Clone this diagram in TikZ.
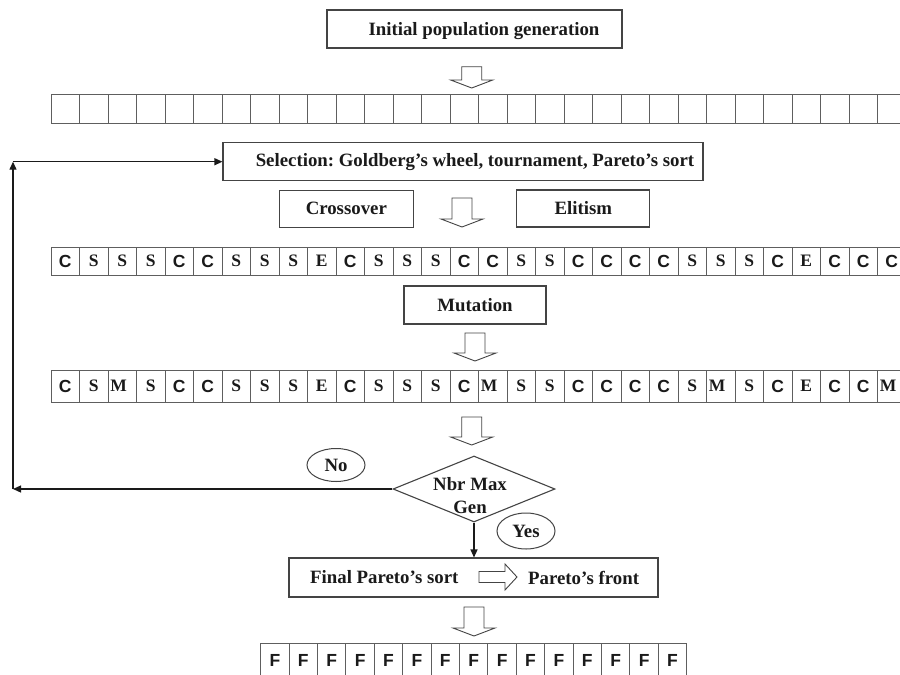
\documentclass[tikz,border=0pt]{standalone}
\usepackage{fontspec}
\setmainfont{Liberation Serif}
\newfontfamily\arialfont{Liberation Sans}
\usetikzlibrary{shapes.geometric,arrows.meta}
\definecolor{boxgray}{HTML}{444444}
\definecolor{cellgray}{HTML}{5E5E5E}
\definecolor{inkc}{HTML}{1A1A1A}
\frenchspacing
\newcommand\LC{{\arialfont C}}
\newcommand\LF{{\arialfont F}}
\newcommand\LS{S}
\newcommand\LE{E}
\newcommand\LM{\makebox[24pt][l]{M}}
% block down arrow: centre x, top y, shaft length, head length
\newcommand\dblock[4]{\draw[barrow] (#1,#2) ++(-10,0) -- ++(0,#3) -- ++(-11,0) -- ++(21,#4) -- ++(21,-#4) -- ++(-11,0) -- ++(0,-#3) -- cycle;}
\tikzset{
 lbl/.style={font=\fontsize{18.8}{23}\selectfont\bfseries, text=inkc},
 box/.style={draw=boxgray, line width=1.1pt, rectangle, inner sep=0pt, lbl},
 cell/.style={draw=cellgray, line width=0.9pt, rectangle, inner sep=0pt, outer sep=0pt,
   minimum width=28.5pt, anchor=north west, text=inkc,
   font=\bfseries\fontsize{17.5}{17.5}\selectfont},
 fb/.style={draw=inkc, line width=1.3pt, -{Triangle[length=8pt,width=7pt]}},
 barrow/.style={draw=boxgray, line width=0.9pt, fill=white, line join=miter},
}
\begin{document}
\begin{tikzpicture}[x=1pt,y=-1pt]
\useasboundingbox (0,0) rectangle (900,675);
\clip (0,0) rectangle (900,675);
\fill[white] (0,0) rectangle (900,675);

% top box
\node[box, minimum width=295pt, minimum height=38pt] (init) at (474.5,29) {};
\node[lbl, inner sep=0pt] (inittxt) at (484,31) {Initial population generation};
\dblock{471.7}{66.7}{13.3}{8}

% empty population row
\foreach \k in {0,...,29}
  \node[cell, minimum height=29pt] (p\k) at ({51+28.5*\k},94) {};

% selection
\node[box, minimum width=480pt, minimum height=38pt] (sel) at (463,161.7) {};
\node[lbl, inner sep=0pt] (seltxt) at (475,161.7) {Selection: Goldberg’s wheel, tournament, Pareto’s sort};

\node[box, minimum width=134pt, minimum height=37pt] (cross) at (346.3,208.7) {Crossover};
\node[box, minimum width=133pt, minimum height=37pt] (elit) at (583.3,208.5) {Elitism};
\dblock{462}{198}{21}{8}

% crossover / selection / elitism row
\foreach \l [count=\k from 0] in {C,S,S,S,C,C,S,S,S,E,C,S,S,S,C,C,S,S,C,C,C,C,S,S,S,C,E,C,C,C}
  \node[cell, minimum height=28pt] (c\k) at ({51+28.5*\k},247) {\csname L\l\endcsname};

% mutation
\node[box, minimum width=142pt, minimum height=38pt] (mut) at (475,305) {Mutation};
\dblock{475}{333}{20}{8}

\foreach \l [count=\k from 0] in {C,S,M,S,C,C,S,S,S,E,C,S,S,S,C,M,S,S,C,C,C,C,S,M,S,C,E,C,C,M}
  \node[cell, minimum height=32pt] (m\k) at ({51+28.5*\k},370) {\csname L\l\endcsname};

\dblock{471.7}{417}{20}{8}

% decision
\node[diamond, draw=boxgray, line width=1.1pt, minimum width=162pt, minimum height=66pt, inner sep=0pt] (dec) at (474,489) {};
\node[lbl, align=center, inner sep=0pt] (dectxt) at (470,496) {Nbr Max\\Gen};
\node[ellipse, draw=boxgray, line width=1pt, minimum width=58pt, minimum height=33pt, inner sep=0pt, lbl] (no) at (336,465) {No};
\node[ellipse, draw=boxgray, line width=1pt, minimum width=58pt, minimum height=36pt, inner sep=0pt, lbl] (yes) at (526,531) {Yes};

% feedback loop
\coordinate (fbL) at (13,489);
\coordinate (fbT) at (sel.west -| fbL);
\draw[fb] (dec.west) -- (fbL);
\draw[fb] (fbL) -- (fbT);
\draw[fb] (fbT) -- (sel.west);

% final
\node[box, minimum width=369pt, minimum height=39pt] (fin) at (473.5,577.5) {};
\draw[fb] (dec.south) -- (dec.south |- fin.north);
\node[lbl, anchor=west, inner sep=0pt] (fin1) at (310,577.5) {Final Pareto’s sort};
\node[lbl, anchor=west, inner sep=0pt] (fin2) at (528,577.5) {Pareto’s front};
\draw[barrow] (479,571.5) -- (505,571.5) -- (505,564) -- (517,577) -- (505,590) -- (505,582.5) -- (479,582.5) -- cycle;

\dblock{474}{607}{21}{8}

\foreach \k in {0,...,14}
  \node[cell, minimum width=28.4pt, minimum height=34pt] (f\k) at ({260.7+28.4*\k},643) {\LF};
\end{tikzpicture}
\end{document}
